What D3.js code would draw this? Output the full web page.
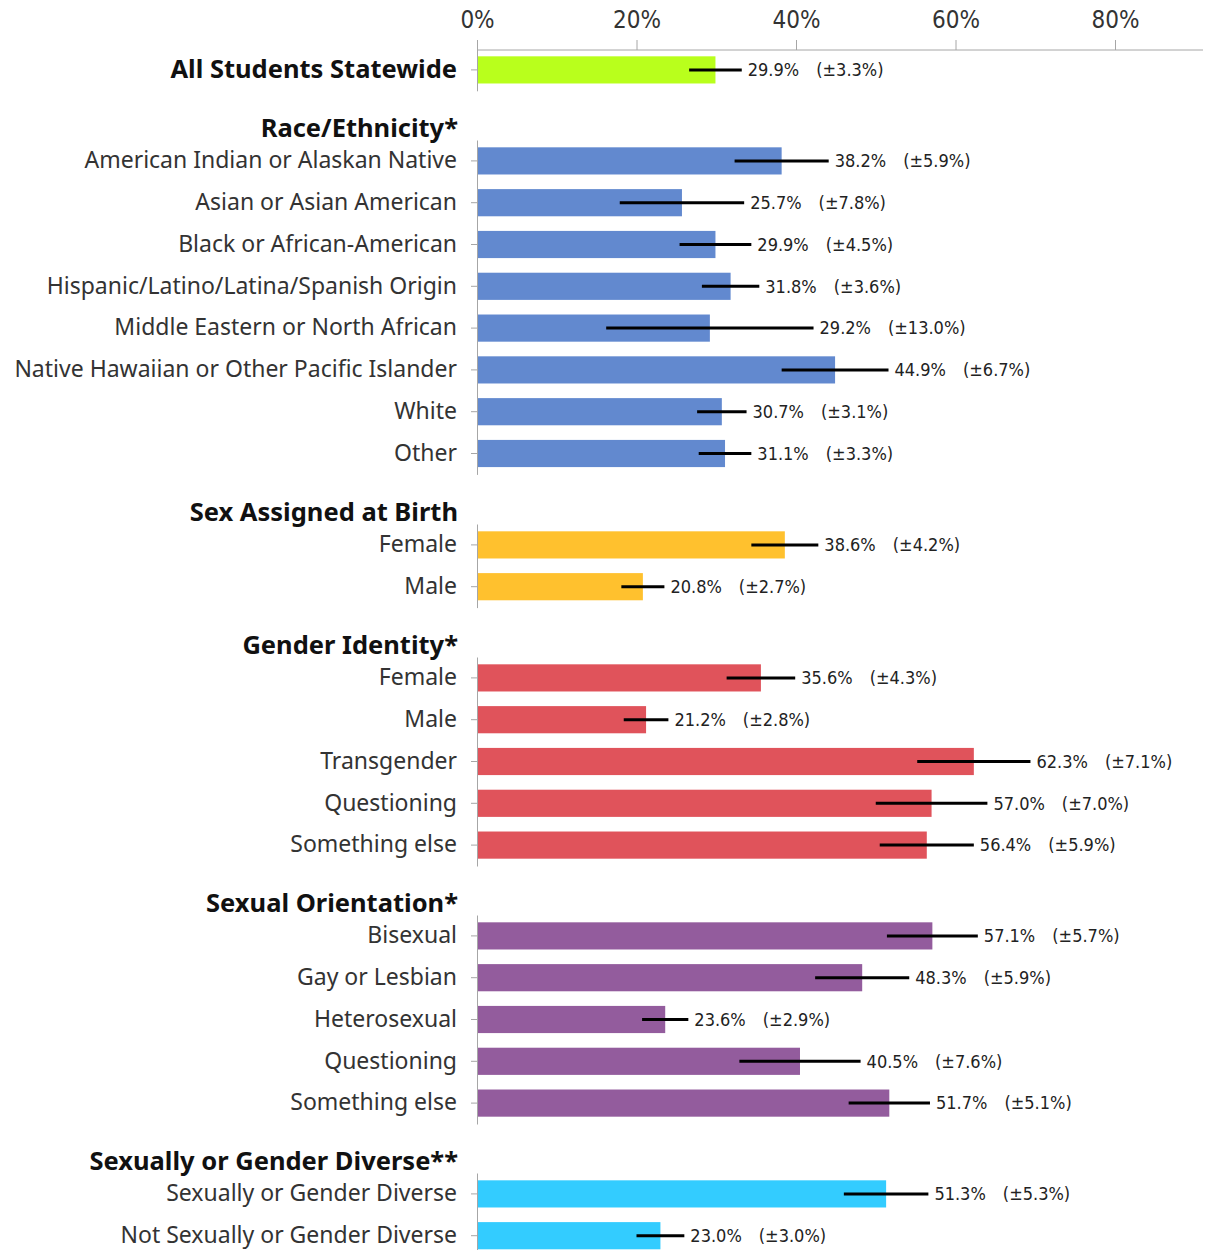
<!DOCTYPE html>
<html>
<head>
<meta charset="utf-8">
<script src="https://cdn.jsdelivr.net/npm/d3@7"></script>
<style>
    body { margin: 0; background: #fff; }
    svg { display: block; }
    .y-axis .domain, .y-axis .tick line, .x-axis .domain, .x-axis .tick line { stroke: #a6a6a6; }
</style>
</head>
<body>
<div id="chart"></div>
<script>
(function () {

    'use strict';

    // < data >

    var tickValues = [0, 20, 40, 60, 80];

    var groupTitles = [
        'All Students Statewide',
        'Race/Ethnicity*',
        'Sex Assigned at Birth',
        'Gender Identity*',
        'Sexual Orientation*',
        'Sexually or Gender Diverse**'
    ];

    var allLabels = ['All Students Statewide'];
    var allValues = [29.9];
    var allErrors = [3.3];

    var raceLabels = [
        'American Indian or Alaskan Native',
        'Asian or Asian American',
        'Black or African-American',
        'Hispanic/Latino/Latina/Spanish Origin',
        'Middle Eastern or North African',
        'Native Hawaiian or Other Pacific Islander',
        'White',
        'Other'
    ];
    var raceValues = [38.2, 25.7, 29.9, 31.8, 29.2, 44.9, 30.7, 31.1];
    var raceErrors = [5.9, 7.8, 4.5, 3.6, 13.0, 6.7, 3.1, 3.3];

    var sexLabels = ['Female', 'Male'];
    var sexValues = [38.6, 20.8];
    var sexErrors = [4.2, 2.7];

    var genderLabels = ['Female', 'Male', 'Transgender', 'Questioning', 'Something else'];
    var genderValues = [35.6, 21.2, 62.3, 57.0, 56.4];
    var genderErrors = [4.3, 2.8, 7.1, 7.0, 5.9];

    var orientationLabels = ['Bisexual', 'Gay or Lesbian', 'Heterosexual', 'Questioning', 'Something else'];
    var orientationValues = [57.1, 48.3, 23.6, 40.5, 51.7];
    var orientationErrors = [5.7, 5.9, 2.9, 7.6, 5.1];

    var diverseLabels = ['Sexually or Gender Diverse', 'Not Sexually or Gender Diverse'];
    var diverseValues = [51.3, 23.0];
    var diverseErrors = [5.3, 3.0];

    // < layout and styles >

    var width = 1208;
    var height = 1250;
    var axisX = 477;
    var axisY = 50;
    var step = 41.8;

    var groupColors = ['#b9ff1c', '#6289cf', '#ffc12e', '#e0535b', '#935c9d', '#33ccff'];
    var panelTops = [49, 140, 524, 657, 915, 1173];

    var panels = [
        { labels: allLabels, values: allValues, errors: allErrors },
        { labels: raceLabels, values: raceValues, errors: raceErrors },
        { labels: sexLabels, values: sexValues, errors: sexErrors },
        { labels: genderLabels, values: genderValues, errors: genderErrors },
        { labels: orientationLabels, values: orientationValues, errors: orientationErrors },
        { labels: diverseLabels, values: diverseValues, errors: diverseErrors }
    ];

    var svg = d3.select('#chart')
        .append('svg')
            .attr('width', width)
            .attr('height', height);

    var x = d3.scaleLinear()
        .domain([0, 100])
        .range([axisX, axisX + 797.5]);

    // top axis
    var xAxisG = svg.append('g')
        .attr('class', 'x-axis')
        .attr('transform', 'translate(0,' + axisY + ')')
        .call(d3.axisTop(x)
            .tickValues(tickValues)
            .tickFormat(function (d) { return d + '%'; })
            .tickSize(10)
            .tickSizeOuter(0)
            .tickPadding(12));

    xAxisG.select('.domain')
        .attr('d', 'M' + axisX + ',0H1203');

    xAxisG.selectAll('text')
        .style('font-family', '"DejaVu Sans Condensed", "DejaVu Sans", sans-serif')
        .style('font-size', '24px')
        .attr('fill', '#333');

    panels.forEach(function (panel, i) {

        var y = d3.scaleBand()
            .domain(panel.labels)
            .range([panelTops[i], panelTops[i] + panel.labels.length * step])
            .paddingInner(0.35)
            .paddingOuter(0.175);

        var g = svg.append('g');

        if (i > 0) {
            g.append('text')
                .attr('x', axisX - 19)
                .attr('y', panelTops[i] - 11.5)
                .attr('dy', '0.35em')
                .attr('text-anchor', 'end')
                .style('font-family', '"Noto Sans", sans-serif')
                .style('font-size', '25.5px')
                .style('font-weight', 'bold')
                .attr('fill', '#111')
                .text(groupTitles[i]);
        }

        var rows = panel.labels.map(function (label, j) {
            return { name: label, value: panel.values[j], error: panel.errors[j] };
        });

        g.selectAll('rect')
            .data(rows)
            .enter()
            .append('rect')
                .attr('x', x(0))
                .attr('y', function (d) { return y(d.name); })
                .attr('width', function (d) { return x(d.value) - x(0); })
                .attr('height', y.bandwidth())
                .attr('fill', groupColors[i]);

        var yAxisG = g.append('g')
            .attr('class', 'y-axis')
            .attr('transform', 'translate(' + axisX + ',0)')
            .call(d3.axisLeft(y).tickSize(6).tickSizeOuter(0).tickPadding(14));

        yAxisG.selectAll('text')
            .style('font-family', '"Noto Sans", sans-serif')
            .style('font-size', i === 0 ? '25.5px' : '23px')
            .style('font-weight', i === 0 ? 'bold' : 'normal')
            .attr('fill', i === 0 ? '#111' : '#333');

        // error bars
        g.selectAll('line.err')
            .data(rows)
            .enter()
            .append('line')
                .attr('class', 'err')
                .attr('x1', function (d) { return x(d.value - d.error); })
                .attr('x2', function (d) { return x(d.value + d.error); })
                .attr('y1', function (d) { return y(d.name) + y.bandwidth() / 2; })
                .attr('y2', function (d) { return y(d.name) + y.bandwidth() / 2; })
                .attr('stroke', '#000')
                .attr('stroke-width', 3);

        var labels = g.selectAll('text.val')
            .data(rows)
            .enter()
            .append('text')
                .attr('class', 'val')
                .attr('x', function (d) { return x(d.value + d.error) + 6; })
                .attr('y', function (d) { return y(d.name) + y.bandwidth() / 2; })
                .attr('dy', '0.35em')
                .style('font-family', '"DejaVu Sans Condensed", "DejaVu Sans", sans-serif')
                .style('font-size', '18px')
                .attr('fill', '#222');

        labels.append('tspan')
            .text(function (d) { return d.value.toFixed(1) + '%'; });

        labels.append('tspan')
            .attr('dx', 17)
            .text(function (d) { return '(\u00b1' + d.error.toFixed(1) + '%)'; });

    });

}());
</script>
</body>
</html>
